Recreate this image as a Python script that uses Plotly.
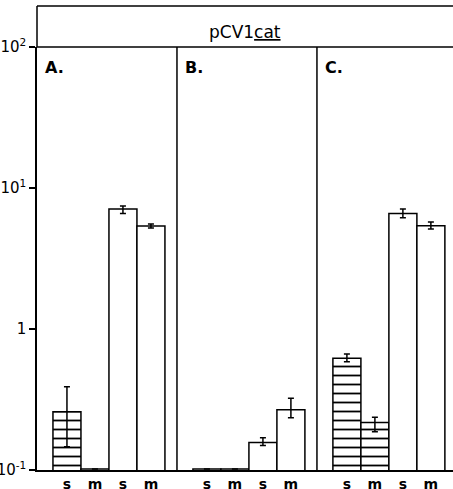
import plotly.graph_objects as go

# ---- data ----
panels = ["A.", "B.", "C."]
bar_labels = ["s", "m", "s", "m"]

# hatched bars (first "s" and "m" of each panel)
hatched_vals = [0.259, 0.1015, 0.1015, 0.1015, 0.62, 0.217]
hatched_hi = [0.39, None, None, None, 0.665, 0.237]
hatched_lo = [0.146, None, None, None, 0.586, 0.187]

# open bars (second "s" and "m" of each panel)
open_vals = [7.1, 5.37, 0.157, 0.267, 6.6, 5.4]
open_hi = [7.45, 5.55, 0.169, 0.323, 7.1, 5.74]
open_lo = [6.6, 5.2, 0.149, 0.235, 6.15, 5.12]

y_tickvals = [0.1, 1, 10, 100]
y_ticktext = ["10<sup>-1</sup>", "1", "10<sup>1</sup>", "10<sup>2</sup>"]
title_text = "pCV1<u>cat</u>"

# ---- layout helpers ----
PANEL_W = 5
OFF = 1.07

def pos(p, i):
    return p * PANEL_W + OFF + i

hx, ox = [], []
for p in range(3):
    hx += [pos(p, 0), pos(p, 1)]
    ox += [pos(p, 2), pos(p, 3)]

def err(vals, hi, lo):
    plus = [(h - v) if h is not None else 0 for v, h in zip(vals, hi)]
    minus = [(v - l) if l is not None else 0 for v, l in zip(vals, lo)]
    return plus, minus

hp, hm = err(hatched_vals, hatched_hi, hatched_lo)
op, om = err(open_vals, open_hi, open_lo)

FONT = "DejaVu Sans"

fig = go.Figure()
fig.add_trace(go.Bar(
    x=hx, y=hatched_vals, width=1.0,
    marker=dict(color="white", line=dict(color="black", width=1.5),
                pattern=dict(shape="-", fgcolor="black", bgcolor="white",
                             fgopacity=1, fillmode="replace",
                             size=9, solidity=0.2)),
    error_y=dict(type="data", array=hp, arrayminus=hm, color="black",
                 thickness=1.5, width=3),
    showlegend=False,
))
fig.add_trace(go.Bar(
    x=ox, y=open_vals, width=1.0,
    marker=dict(color="white", line=dict(color="black", width=1.5)),
    error_y=dict(type="data", array=op, arrayminus=om, color="black",
                 thickness=1.5, width=3),
    showlegend=False,
))

tickvals = [pos(p, i) for p in range(3) for i in range(4)]
ticktext = bar_labels * 3

fig.update_layout(
    width=453, height=489,
    margin=dict(l=37, r=0, t=47, b=19),
    plot_bgcolor="white", paper_bgcolor="white",
    barmode="overlay",
    font=dict(family=FONT, color="black"),
    xaxis=dict(range=[0, 14.86], showgrid=False, zeroline=False, automargin=False,
               showline=True, linecolor="black", linewidth=1.5,
               tickvals=tickvals, ticktext=ticktext, ticks="",
               tickfont=dict(size=14, family=FONT, weight="bold")),
    yaxis=dict(type="log", range=[-1, 2], showgrid=False, zeroline=False, automargin=False,
               showline=True, linecolor="black", linewidth=1.5,
               tickvals=y_tickvals, ticktext=y_ticktext,
               ticks="outside", ticklen=6, tickcolor="black", tickwidth=1.5,
               tickfont=dict(size=15, family=FONT)),
)

TOP = 1.097
shapes = [
    dict(type="line", xref="paper", yref="paper", x0=0, x1=0, y0=1, y1=TOP,
         line=dict(color="black", width=1.5)),
    dict(type="line", xref="paper", yref="paper", x0=0, x1=1, y0=TOP, y1=TOP,
         line=dict(color="black", width=1.5)),
    dict(type="line", xref="paper", yref="paper", x0=0, x1=1, y0=1, y1=1,
         line=dict(color="black", width=1.5)),
]
for p in range(1, 3):
    shapes.append(dict(type="line", xref="x", yref="paper",
                       x0=p * PANEL_W, x1=p * PANEL_W, y0=0, y1=1,
                       line=dict(color="black", width=1.5)))
fig.update_layout(shapes=shapes)

annotations = [dict(text=title_text, xref="paper", yref="paper", x=0.5, y=1.036,
                    showarrow=False, xanchor="center", yanchor="middle",
                    font=dict(size=17, family=FONT))]
for p, lab in enumerate(panels):
    annotations.append(dict(text=lab, xref="x", yref="paper", x=p * PANEL_W + 0.22,
                            y=0.952, showarrow=False, xanchor="left", yanchor="middle",
                            font=dict(size=16, family=FONT, weight="bold")))
fig.update_layout(annotations=annotations)

fig.write_html("out.html", config={"displayModeBar": False},
               post_script="document.body.style.margin='0';document.body.style.overflow='hidden';")
